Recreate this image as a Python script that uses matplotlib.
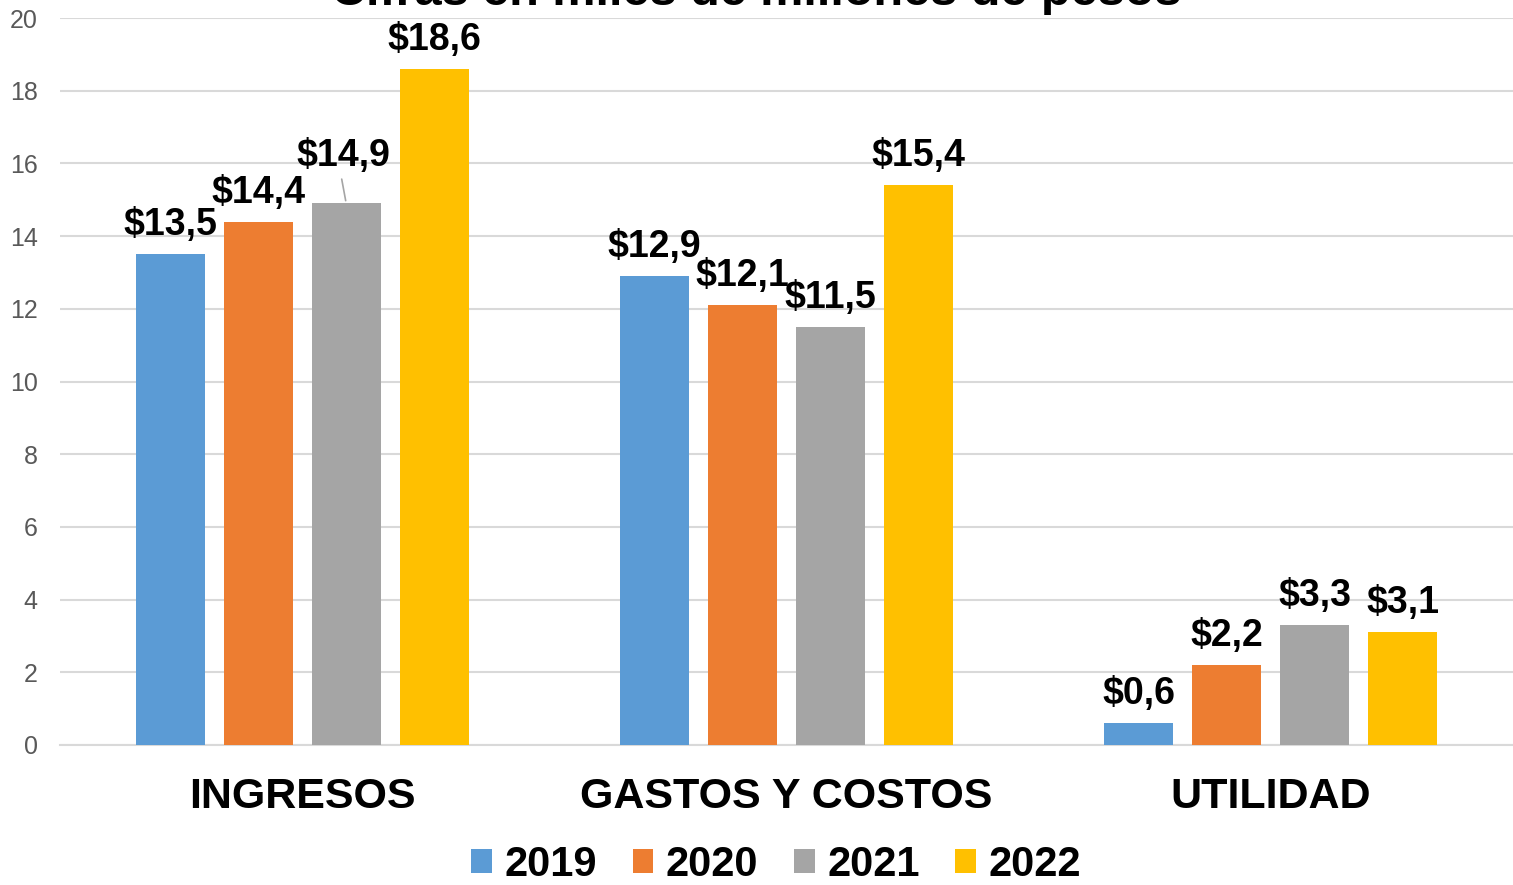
"""Ingresos, gastos y utilidad 2019-2022 (matplotlib -> out.png)."""

import matplotlib
matplotlib.use("Agg")
import matplotlib.pyplot as plt
import numpy as np
from matplotlib.patches import Patch

plt.rcParams["font.family"] = ["Liberation Sans", "DejaVu Sans"]

categories = ["INGRESOS", "GASTOS Y COSTOS", "UTILIDAD"]
years = ["2019", "2020", "2021", "2022"]
values = {
    "2019": [13.5, 12.9, 0.6],
    "2020": [14.4, 12.1, 2.2],
    "2021": [14.9, 11.5, 3.3],
    "2022": [18.6, 15.4, 3.1],
}
colors = ["#5B9BD5", "#ED7D31", "#A5A5A5", "#FFC000"]
y_ticks = [0, 2, 4, 6, 8, 10, 12, 14, 16, 18, 20]

fig = plt.figure(figsize=(15.13, 8.85), dpi=100)
ax = fig.add_axes([60 / 1513, 1 - 745 / 885, 1453 / 1513, 727 / 885])

x = np.arange(len(categories))
width = 0.1426
offsets = [-0.2727, -0.0909, 0.0909, 0.2727]

# label offsets in pixels (dx, dy) from top of bar
label_shift = {
    ("2021", 0): (-3, 47),
}

for yr, col, off in zip(years, colors, offsets):
    bars = ax.bar(x + off, values[yr], width, color=col, zorder=3)
    for i, (bar, v) in enumerate(zip(bars, values[yr])):
        dx, dy = label_shift.get((yr, i), (0, 29))
        ax.annotate(
            f"${v:.1f}".replace(".", ","),
            xy=(bar.get_x() + bar.get_width() / 2, v),
            xytext=(dx, dy), textcoords="offset pixels",
            ha="center", va="center",
            fontsize=27, fontweight="bold", color="black",
        )
        if (yr, i) in label_shift:
            ax.annotate(
                "", xy=(bar.get_x() + bar.get_width() / 2, v),
                xytext=(dx - 2, dy - 20), textcoords="offset pixels",
                arrowprops=dict(arrowstyle="-", color="#A5A5A5", lw=1.2),
            )

ax.set_xlim(-0.5, 2.5)
ax.set_ylim(0, 20)
ax.set_yticks(y_ticks)
ax.set_xticks(x)
ax.set_xticklabels(categories, fontsize=31, fontweight="bold")
ax.tick_params(axis="x", length=0, pad=23)
ax.tick_params(axis="y", length=0, pad=16, labelsize=18, labelcolor="#595959")
ax.grid(True, axis="y", color="#D9D9D9", linewidth=1.5, zorder=0)
for s in ["top", "right", "left"]:
    ax.spines[s].set_visible(False)
ax.spines["bottom"].set_color("#D9D9D9")
ax.spines["bottom"].set_linewidth(1.5)

# title is clipped at the top edge in the reference
fig.text(0.5, 1 - 5 / 885, "Cifras en miles de millones de pesos",
         ha="center", va="baseline", fontsize=35, fontweight="bold")

handles = [Patch(facecolor=c, label=y) for c, y in zip(colors, years)]
leg = fig.legend(
    handles=handles, loc="center", bbox_to_anchor=(0.513, 1 - 865 / 885),
    ncol=4, frameon=False, handlelength=0.5, handleheight=0.5,
    handletextpad=0.3, columnspacing=0.85,
    prop={"size": 30, "weight": "bold"},
)

fig.savefig("out.png", dpi=100)
plt.close(fig)
